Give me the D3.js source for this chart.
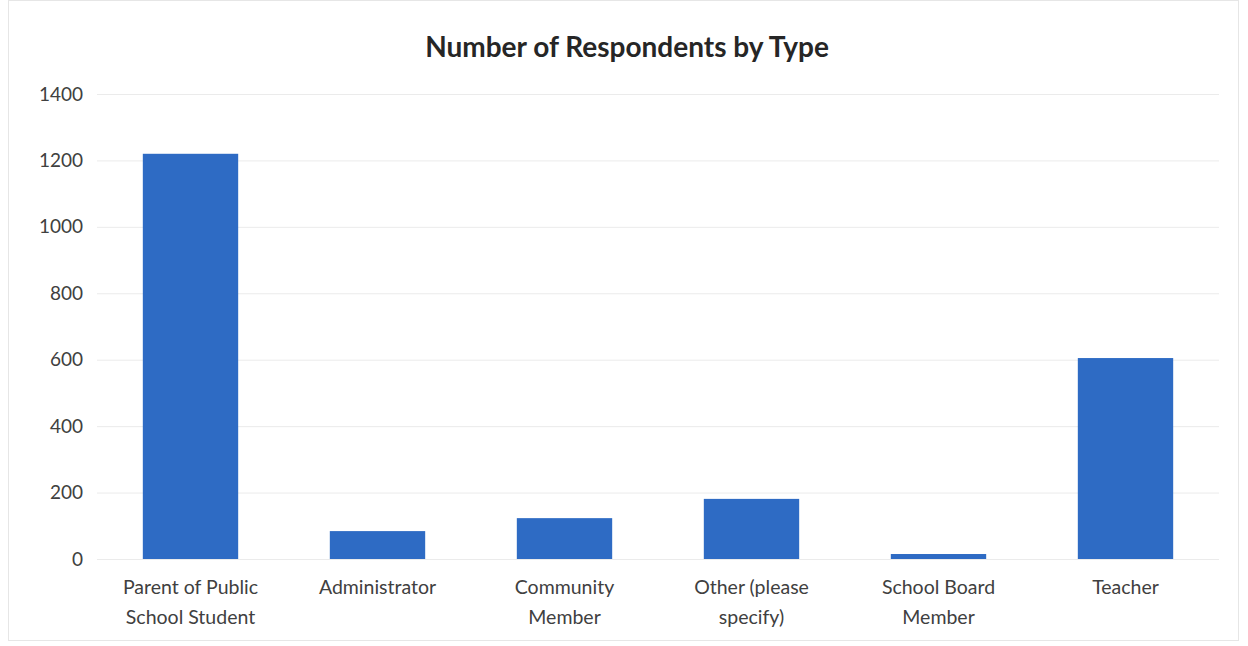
<!DOCTYPE html>
<html>
<head>
<meta charset="utf-8">
<script src="https://cdn.jsdelivr.net/npm/d3@7"></script>
<style>
  html, body { margin: 0; padding: 0; background: #fff; }
  svg text { font-family: Lato, "Open Sans", sans-serif; fill: #404040; }
</style>
</head>
<body>
<svg id="chart" width="1248" height="646"></svg>
<script>
const categories = [
  ["Parent of Public", "School Student"],
  ["Administrator"],
  ["Community", "Member"],
  ["Other (please", "specify)"],
  ["School Board", "Member"],
  ["Teacher"]
];
const values = [1220, 84, 123, 181, 15, 605];
const yTicks = [0, 200, 400, 600, 800, 1000, 1200, 1400];
const title = "Number of Respondents by Type";

const svg = d3.select("#chart");
const W = 1248, H = 646;
const margin = { left: 97, right: 29, top: 94, bottom: 87 };

svg.append("rect")
  .attr("x", 8.5).attr("y", 0.5).attr("width", 1230).attr("height", 640)
  .attr("fill", "#fff").attr("stroke", "#e6e6e6");

const idx = categories.map((d, i) => i);
const x = d3.scaleBand().domain(idx)
  .range([margin.left, W - margin.right]).paddingInner(0.49).paddingOuter(0.245);
const y = d3.scaleLinear().domain([0, 1400]).range([H - margin.bottom, margin.top]);

// gridlines
const yAxis = d3.axisLeft(y).tickValues(yTicks).tickFormat(d3.format("d"))
  .tickSize(-(W - margin.left - margin.right)).tickPadding(14);
const gy = svg.append("g").attr("transform", `translate(${margin.left},0)`).call(yAxis);
gy.select(".domain").remove();
gy.selectAll(".tick line").attr("stroke", "#ebebeb").attr("stroke-width", 1);
gy.selectAll(".tick text").attr("font-size", 19).style("fill", "#404040")
  .attr("font-family", "Lato, sans-serif");

// bars
svg.append("g").selectAll("rect").data(values).join("rect")
  .attr("x", (d, i) => x(i))
  .attr("width", x.bandwidth())
  .attr("y", d => y(d))
  .attr("height", d => y(0) - y(d))
  .attr("fill", "#2e6bc4");

// x labels
const xAxis = d3.axisBottom(x).tickSize(0).tickFormat(() => "");
const gx = svg.append("g").attr("transform", `translate(0,${y(0)})`).call(xAxis);
gx.select(".domain").remove();
gx.selectAll(".tick").each(function(d) {
  const t = d3.select(this).append("text")
    .attr("text-anchor", "middle")
    .attr("font-size", 19.5)
    .style("fill", "#404040");
  categories[d].forEach((line, k) => {
    t.append("tspan").attr("x", 0).attr("y", 35 + k * 30).text(line);
  });
});

// title
svg.append("text").attr("x", 627).attr("y", 57).attr("text-anchor", "middle")
  .attr("font-size", 28).attr("font-weight", "bold").style("fill", "#262626")
  .text(title);
</script>
</body>
</html>
